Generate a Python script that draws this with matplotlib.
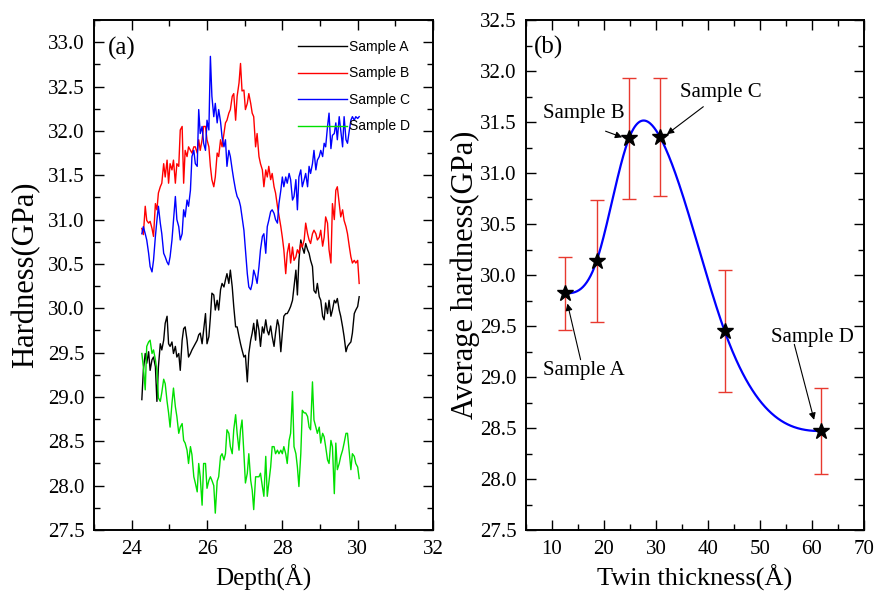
import numpy as np
import matplotlib
matplotlib.use("Agg")
import matplotlib.pyplot as plt
from matplotlib.ticker import MultipleLocator

plt.rcParams['font.family'] = ['Liberation Serif', 'DejaVu Serif']
plt.rcParams['mathtext.fontset'] = 'stix'

# (a) nanoindentation hardness vs depth
depth = [24.27, 24.31, 24.36, 24.40, 24.45, 24.49, 24.54, 24.58, 24.63, 24.67,
         24.71, 24.76, 24.80, 24.85, 24.89, 24.94, 24.98, 25.02, 25.07, 25.11,
         25.16, 25.20, 25.25, 25.29, 25.34, 25.38, 25.42, 25.47, 25.51, 25.56,
         25.60, 25.65, 25.69, 25.74, 25.78, 25.82, 25.87, 25.91, 25.96, 26.00,
         26.05, 26.09, 26.13, 26.18, 26.22, 26.27, 26.31, 26.36, 26.40, 26.45,
         26.49, 26.53, 26.58, 26.62, 26.67, 26.71, 26.76, 26.80, 26.85, 26.89,
         26.93, 26.98, 27.02, 27.07, 27.11, 27.16, 27.20, 27.24, 27.29, 27.33,
         27.38, 27.42, 27.47, 27.51, 27.56, 27.60, 27.64, 27.69, 27.73, 27.78,
         27.82, 27.87, 27.91, 27.96, 28.00, 28.04, 28.09, 28.13, 28.18, 28.22,
         28.27, 28.31, 28.36, 28.40, 28.44, 28.49, 28.53, 28.58, 28.62, 28.67,
         28.71, 28.75, 28.80, 28.84, 28.89, 28.93, 28.98, 29.02, 29.07, 29.11,
         29.15, 29.20, 29.24, 29.29, 29.33, 29.38, 29.42, 29.46, 29.51, 29.55,
         29.60, 29.64, 29.69, 29.73, 29.78, 29.82, 29.86, 29.91, 29.95, 30.00,
         30.04]

hard_a = [28.97, 29.30, 29.49, 29.38, 29.51, 29.30, 29.42, 29.45, 29.34, 28.95,
          29.34, 29.60, 29.53, 29.64, 29.83, 29.91, 29.60, 29.57, 29.62, 29.49,
          29.57, 29.45, 29.49, 29.30, 29.64, 29.77, 29.79, 29.64, 29.45, 29.49,
          29.53, 29.57, 29.60, 29.64, 29.70, 29.72, 29.60, 29.75, 29.94, 29.60,
          29.68, 29.90, 30.17, 30.15, 29.98, 30.09, 29.98, 30.21, 30.28, 30.24,
          30.32, 30.39, 30.28, 30.43, 30.24, 30.02, 29.79, 29.79, 29.68, 29.60,
          29.53, 29.45, 29.47, 29.17, 29.49, 29.64, 29.72, 29.83, 29.64, 29.87,
          29.75, 29.57, 29.79, 29.72, 29.87, 29.75, 29.70, 29.80, 29.68, 29.57,
          29.72, 29.87, 29.80, 29.51, 29.72, 29.91, 29.94, 29.94, 29.98, 30.02,
          30.09, 30.24, 30.43, 30.15, 30.54, 30.77, 30.69, 30.62, 30.73, 30.66,
          30.62, 30.54, 30.47, 30.20, 30.17, 30.28, 30.13, 30.09, 29.91, 29.87,
          30.06, 29.94, 30.09, 29.91, 29.98, 30.09, 30.06, 30.11, 29.98, 29.91,
          29.79, 29.68, 29.51, 29.57, 29.60, 29.62, 29.72, 29.94, 29.98, 30.02,
          30.13]

hard_b = [30.90, 30.83, 31.15, 30.99, 30.96, 30.98, 30.90, 30.81, 31.18, 31.11,
          31.30, 31.37, 31.41, 31.63, 31.48, 31.67, 31.41, 31.63, 31.56, 31.67,
          31.41, 31.63, 31.60, 32.01, 32.05, 31.41, 31.78, 31.71, 31.82, 31.78,
          31.75, 31.82, 31.82, 31.75, 31.90, 31.78, 31.90, 32.05, 32.05, 31.90,
          31.82, 31.60, 31.45, 31.37, 31.48, 31.75, 31.71, 31.90, 31.82, 31.97,
          32.09, 32.12, 32.20, 32.24, 32.39, 32.42, 32.12, 32.39, 32.54, 32.76,
          32.45, 32.46, 32.24, 32.31, 32.42, 32.31, 32.20, 32.16, 31.82, 31.97,
          31.71, 31.63, 31.56, 31.37, 31.56, 31.48, 31.60, 31.45, 31.52, 31.37,
          31.30, 31.15, 31.05, 30.92, 30.80, 30.66, 30.39, 30.62, 30.73, 30.51,
          30.69, 30.54, 30.58, 30.66, 30.62, 30.73, 30.69, 30.77, 30.96, 30.84,
          30.77, 30.73, 30.84, 30.88, 30.84, 30.77, 30.80, 30.88, 30.70, 30.80,
          31.03, 30.96, 30.66, 30.51, 31.18, 31.00, 31.33, 31.37, 31.18, 31.03,
          31.11, 30.99, 30.92, 30.84, 30.69, 30.58, 30.51, 30.54, 30.51, 30.54,
          30.28]

hard_c = [30.84, 30.92, 30.84, 30.77, 30.62, 30.47, 30.41, 30.54, 30.81, 30.99,
          31.15, 30.96, 30.84, 30.62, 30.58, 30.52, 30.49, 30.58, 30.77, 30.99,
          31.26, 31.00, 30.92, 30.77, 30.84, 31.11, 31.03, 31.22, 31.15, 31.33,
          31.71, 31.78, 31.63, 31.60, 32.24, 31.97, 32.05, 31.86, 31.78, 32.12,
          32.01, 32.84, 32.39, 32.16, 32.31, 32.09, 32.24, 32.10, 31.93, 31.82,
          31.90, 31.60, 31.78, 31.71, 31.56, 31.45, 31.33, 31.26, 31.22, 31.15,
          31.03, 30.88, 30.66, 30.39, 30.24, 30.21, 30.28, 30.43, 30.36, 30.28,
          30.47, 30.66, 30.81, 30.84, 30.62, 30.92, 30.99, 31.09, 31.11, 31.07,
          31.00, 30.96, 31.18, 31.33, 31.48, 31.37, 31.48, 31.41, 31.52, 31.45,
          31.22, 31.26, 31.45, 31.11, 31.48, 31.56, 31.37, 31.45, 31.52, 31.37,
          31.60, 31.52, 31.63, 31.78, 31.56, 31.67, 31.71, 31.78, 31.71, 31.86,
          31.82, 32.05, 32.20, 31.80, 31.95, 31.97, 32.09, 31.90, 32.16, 32.01,
          31.82, 32.16, 31.90, 31.86, 32.01, 32.12, 32.16, 32.12, 32.16, 32.14,
          32.16]

hard_d = [29.49, 29.34, 29.08, 29.57, 29.62, 29.64, 29.49, 29.53, 29.42, 29.30,
          28.99, 28.95, 29.05, 29.20, 29.15, 28.95, 28.82, 28.66, 28.93, 29.10,
          28.89, 28.78, 28.59, 28.66, 28.70, 28.51, 28.48, 28.40, 28.25, 28.44,
          28.35, 28.10, 28.03, 27.93, 28.25, 28.10, 27.78, 28.25, 28.25, 27.97,
          28.06, 28.10, 28.06, 28.00, 27.69, 28.05, 28.10, 28.33, 28.36, 28.29,
          28.36, 28.63, 28.59, 28.44, 28.36, 28.63, 28.80, 28.59, 28.40, 28.63,
          28.74, 28.36, 28.03, 28.14, 28.36, 28.06, 27.95, 27.73, 28.10, 28.10,
          28.10, 28.14, 27.99, 27.88, 28.33, 27.88, 28.03, 28.21, 28.44, 28.44,
          28.36, 28.40, 28.36, 28.40, 28.36, 28.44, 28.36, 28.25, 28.51, 28.59,
          29.06, 28.44, 28.36, 28.21, 27.99, 28.36, 28.85, 28.82, 28.82, 28.78,
          28.66, 28.63, 29.17, 28.74, 28.66, 28.59, 28.66, 28.48, 28.59, 28.55,
          28.44, 28.29, 28.25, 28.51, 28.44, 27.91, 28.48, 28.18, 28.25, 28.33,
          28.40, 28.48, 28.59, 28.59, 28.36, 28.18, 28.36, 28.33, 28.25, 28.21,
          28.08]

series_names = ["Sample A", "Sample B", "Sample C", "Sample D"]
series_colors = ["black", "red", "blue", "#00e000"]

# (b) average hardness vs twin thickness
twin = [12.5, 18.6, 24.8, 30.8, 43.2, 61.7]
avg_hard = [29.82, 30.14, 31.34, 31.35, 29.45, 28.47]
avg_err = [0.36, 0.60, 0.59, 0.58, 0.60, 0.42]
point_names = {0: "Sample A", 2: "Sample B", 3: "Sample C", 5: "Sample D"}


def clamped_spline(x, y, xs):
    # cubic spline with zero slope at both ends
    x = np.asarray(x, float)
    y = np.asarray(y, float)
    n = len(x)
    h = np.diff(x)
    A = np.zeros((n, n))
    r = np.zeros(n)
    A[0, 0], A[0, 1] = 2 * h[0], h[0]
    r[0] = 6 * ((y[1] - y[0]) / h[0])
    for i in range(1, n - 1):
        A[i, i - 1] = h[i - 1]
        A[i, i] = 2 * (h[i - 1] + h[i])
        A[i, i + 1] = h[i]
        r[i] = 6 * ((y[i + 1] - y[i]) / h[i] - (y[i] - y[i - 1]) / h[i - 1])
    A[-1, -2], A[-1, -1] = h[-1], 2 * h[-1]
    r[-1] = 6 * (0 - (y[-1] - y[-2]) / h[-1])
    M = np.linalg.solve(A, r)
    idx = np.clip(np.searchsorted(x, xs) - 1, 0, n - 2)
    x0, x1 = x[idx], x[idx + 1]
    hh = x1 - x0
    return (M[idx] * (x1 - xs) ** 3 / (6 * hh) + M[idx + 1] * (xs - x0) ** 3 / (6 * hh)
            + (y[idx] / hh - M[idx] * hh / 6) * (x1 - xs)
            + (y[idx + 1] / hh - M[idx + 1] * hh / 6) * (xs - x0))


def style_axes(ax):
    for s in ax.spines.values():
        s.set_linewidth(1.4)
    ax.tick_params(which='both', direction='in', top=True, right=True,
                   labelsize=15, width=1.0, pad=7)
    ax.tick_params(which='major', length=7.5)
    ax.tick_params(which='minor', length=4.5)


fig = plt.figure(figsize=(8.76, 5.95), dpi=100)
ax1 = fig.add_axes([94 / 876, 65 / 595, 339 / 876, 510 / 595])
ax2 = fig.add_axes([526 / 876, 65 / 595, 338 / 876, 510 / 595])

# panel (a)
for vals, name, col in zip([hard_a, hard_b, hard_c, hard_d], series_names, series_colors):
    ax1.plot(depth, vals, color=col, lw=1.0, label=name)
ax1.set_xlim(23, 32)
ax1.set_ylim(27.5, 33.25)
ax1.xaxis.set_major_locator(MultipleLocator(2))
ax1.xaxis.set_minor_locator(MultipleLocator(1))
ax1.yaxis.set_major_locator(MultipleLocator(0.5))
ax1.yaxis.set_minor_locator(MultipleLocator(0.25))
ax1.yaxis.set_major_formatter(plt.FormatStrFormatter('%.1f'))
style_axes(ax1)
ax1.set_xlabel("Depth(Å)", fontsize=18, labelpad=4)
ax1.set_ylabel("Hardness(GPa)", fontsize=22, labelpad=5)
ax1.text(23.37, 32.93, "(a)", fontsize=18, va='center', ha='left')
leg = ax1.legend(loc='upper left', bbox_to_anchor=(0.602, 0.961), frameon=False,
                 prop={'family': 'Liberation Sans', 'size': 10},
                 handlelength=3.5, handletextpad=0.2, labelspacing=0.9,
                 borderpad=0, borderaxespad=0)

# panel (b)
xs = np.linspace(twin[0], twin[-1], 400)
ax2.plot(xs, clamped_spline(twin, avg_hard, xs), color='blue', lw=1.6, zorder=2)
ax2.errorbar(twin, avg_hard, yerr=avg_err, fmt='none', ecolor='#e8392f',
             elinewidth=1.0, capsize=5, capthick=1.0, zorder=1)
ax2.plot(twin, avg_hard, linestyle='none', marker='*', color='black',
         markersize=12, zorder=3)
ax2.set_xlim(5, 70)
ax2.set_ylim(27.5, 32.5)
ax2.xaxis.set_major_locator(MultipleLocator(10))
ax2.xaxis.set_minor_locator(MultipleLocator(5))
ax2.yaxis.set_major_locator(MultipleLocator(0.5))
ax2.yaxis.set_minor_locator(MultipleLocator(0.25))
ax2.yaxis.set_major_formatter(plt.FormatStrFormatter('%.1f'))
style_axes(ax2)
ax2.set_xlabel("Twin thickness(Å)", fontsize=19, labelpad=4)
ax2.set_ylabel("Average hardness(GPa)", fontsize=22, labelpad=0)
ax2.text(6.6, 32.23, "(b)", fontsize=18, va='center', ha='left')

# labels with arrows pointing at the four samples
label_pos = {0: (8.2, 29.06), 2: (8.2, 31.58), 3: (34.6, 31.79), 5: (52.2, 29.39)}
arrow_tail = {0: (15.5, 29.17), 2: (20.3, 31.41), 3: (39.1, 31.65), 5: (56.6, 29.32)}
arrow_head = {0: (12.97, 29.72), 2: (23.5, 31.35), 3: (32.1, 31.38), 5: (60.4, 28.58)}
for i, name in point_names.items():
    ax2.text(*label_pos[i], name, fontsize=15, ha='left', va='center')
    ax2.annotate("", xy=arrow_head[i], xytext=arrow_tail[i],
                 arrowprops=dict(arrowstyle='-|>', color='black', lw=0.8,
                                 mutation_scale=10, shrinkA=0, shrinkB=0))

fig.savefig("out.png", dpi=100)
